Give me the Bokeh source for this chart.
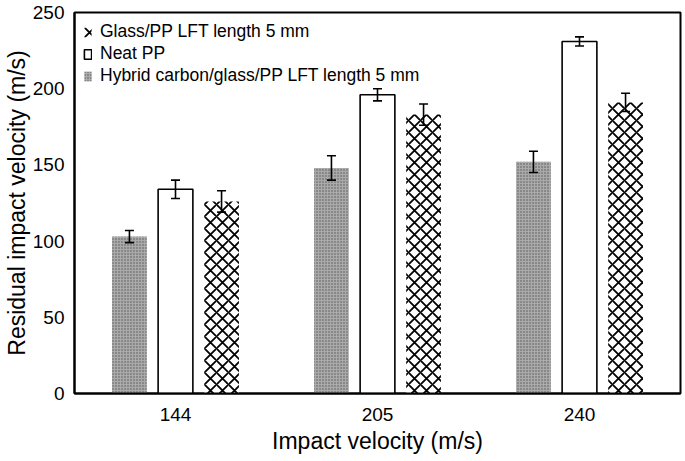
import numpy as np
from bokeh.plotting import figure
from bokeh.models import (ColumnDataSource, Whisker, TeeHead, FixedTicker, Legend,
                          LegendItem, Range1d)
from bokeh.embed import file_html
from bokeh.resources import INLINE

# ---- data ----
categories = ["144", "205", "240"]
series_names = ["Glass/PP LFT length 5 mm", "Neat PP", "Hybrid carbon/glass/PP LFT length 5 mm"]
hybrid = [103, 148, 152]
hybrid_err = [4, 8, 7]
neat = [134, 196, 231]
neat_err = [6, 4, 3]
glass = [126, 183, 191]
glass_err = [7, 7, 6]
y_ticks = [0, 50, 100, 150, 200, 250]

FONT = "Liberation Sans"

p = figure(width=683, height=458, output_backend="svg", toolbar_location=None,
           x_range=Range1d(0, 3), y_range=Range1d(0, 250),
           min_border_left=64, min_border_right=3, min_border_top=12, min_border_bottom=65)
p.grid.visible = False
p.outline_line_color = "black"
p.outline_line_width = 2
p.background_fill_color = "white"
p.border_fill_color = "white"

centers = np.arange(len(categories)) + 0.5
offsets = [-0.228, 0.0, 0.228]
bw = 0.172

def make_src(vals, errs, off):
    v = np.array(vals, dtype=float)
    e = np.array(errs, dtype=float)
    return ColumnDataSource(dict(x=centers + off, top=v, upper=v + e, lower=v - e))

src_h = make_src(hybrid, hybrid_err, offsets[0])
src_n = make_src(neat, neat_err, offsets[1])
src_g = make_src(glass, glass_err, offsets[2])

r_h = p.vbar(x="x", top="top", width=bw, source=src_h, fill_color="#aaaaaa",
             line_color=None, hatch_pattern="dot", hatch_color="#555555",
             hatch_scale=3, hatch_weight=1)
r_n = p.vbar(x="x", top="top", width=bw, source=src_n, fill_color="white",
             line_color="black", line_width=1.6)
r_g = p.vbar(x="x", top="top", width=bw, source=src_g, fill_color="white",
             line_color=None, hatch_pattern="diagonal_cross", hatch_color="black",
             hatch_scale=12, hatch_weight=1.8)

for src in (src_h, src_n, src_g):
    w = Whisker(base="x", upper="upper", lower="lower", source=src,
                line_color="black", line_width=1.6, level="overlay",
                upper_head=TeeHead(size=9, line_color="black", line_width=1.6),
                lower_head=TeeHead(size=9, line_color="black", line_width=1.6))
    p.add_layout(w)

# axes
p.xaxis.ticker = FixedTicker(ticks=list(centers))
p.xaxis.major_label_overrides = {float(c): lab for c, lab in zip(centers, categories)}
p.yaxis.ticker = FixedTicker(ticks=y_ticks)
for ax in (p.xaxis, p.yaxis):
    ax.major_tick_line_color = None
    ax.minor_tick_line_color = None
    ax.axis_line_width = 2
    ax.axis_line_color = "black"
    ax.major_label_text_font = FONT
    ax.major_label_text_font_size = "19px"
    ax.major_label_text_color = "black"
    ax.axis_label_text_font = FONT
    ax.axis_label_text_font_size = "23px"
    ax.axis_label_text_font_style = "normal"
    ax.axis_label_text_color = "black"
p.xaxis.axis_label = "Impact velocity (m/s)"
p.yaxis.axis_label = "Residual impact velocity (m/s)"
p.xaxis.major_label_standoff = 8
p.xaxis.axis_label_standoff = 4
p.yaxis.major_label_standoff = 4
p.yaxis.axis_label_standoff = 0

legend = Legend(items=[LegendItem(label=series_names[0], renderers=[r_g]),
                       LegendItem(label=series_names[1], renderers=[r_n]),
                       LegendItem(label=series_names[2], renderers=[r_h])],
                location="top_left", margin=9, padding=1, spacing=1,
                glyph_width=9, glyph_height=12, label_height=18, label_standoff=8,
                label_text_font=FONT, label_text_font_size="17.5px",
                label_text_color="black",
                background_fill_alpha=0, border_line_color=None)
p.add_layout(legend)

open("out.html", "w").write(file_html(p, INLINE))
